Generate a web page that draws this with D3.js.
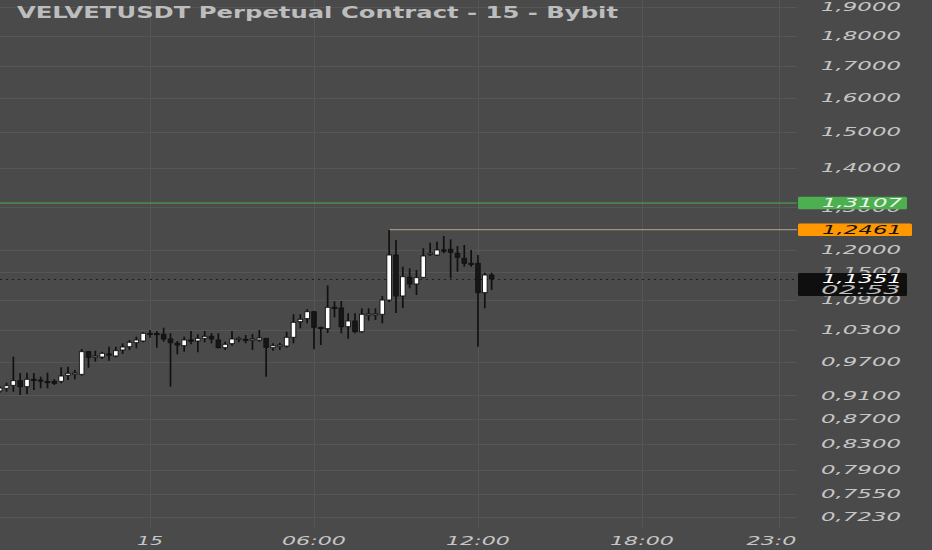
<!DOCTYPE html>
<html><head><meta charset="utf-8">
<script src="https://cdn.jsdelivr.net/npm/d3@7"></script>
<style>html,body{margin:0;padding:0;background:#4a4a4a;}svg{display:block}</style>
</head><body>
<svg id="chart" width="932" height="550"></svg>
<script>
const title = "VELVETUSDT Perpetual Contract - 15 - Bybit";
const firstBar = Date.UTC(2024, 0, 14, 18, 30);
const barMinutes = 15;
const open  = [0.9177,0.9224,0.9276,0.9358,0.9252,0.9383,0.9370,0.9344,0.9347,0.9347,0.9454,0.9490,0.9472,0.9887,0.9797,0.9788,0.9844,0.9807,0.9919,0.9981,1.0057,1.0090,1.0238,1.0234,1.0219,1.0128,1.0046,1.0000,1.0109,1.0090,1.0141,1.0180,1.0109,0.9962,1.0038,1.0128,1.0122,1.0122,1.0109,1.0141,0.9962,1.0008,0.9994,1.0161,1.0466,1.0526,1.0666,1.0355,1.0328,1.0756,1.0741,1.0367,1.0480,1.0269,1.0614,1.0620,1.0614,1.0905,1.1877,1.0989,1.1385,1.1242,1.1385,1.1900,1.1877,1.1991,1.2006,1.1916,1.1803,1.1692,1.1692,1.1058,1.1435];
const high  = [0.9264,0.9322,0.9794,0.9495,0.9501,0.9495,0.9429,0.9501,0.9383,0.9599,0.9609,0.9550,0.9938,0.9900,0.9906,0.9887,0.9981,0.9981,1.0046,1.0109,1.0172,1.0257,1.0302,1.0283,1.0347,1.0238,1.0090,1.0172,1.0283,1.0219,1.0283,1.0238,1.0238,1.0076,1.0283,1.0172,1.0205,1.0224,1.0302,1.0147,1.0046,1.0057,1.0269,1.0614,1.0614,1.0715,1.0680,1.0367,1.1210,1.0879,1.0885,1.0634,1.0634,1.0735,1.0735,1.0735,1.0989,1.2461,1.2220,1.1617,1.1581,1.1544,1.2029,1.2158,1.2181,1.2313,1.2236,1.2082,1.2105,1.1991,1.1877,1.1485,1.1485];
const low   = [0.9142,0.9164,0.9164,0.9107,0.9125,0.9194,0.9224,0.9224,0.9282,0.9312,0.9370,0.9383,0.9447,0.9591,0.9701,0.9751,0.9720,0.9782,0.9844,0.9919,0.9951,1.0065,1.0153,0.9962,1.0076,0.9252,0.9838,0.9887,1.0027,0.9876,1.0065,1.0046,0.9951,0.9919,1.0000,1.0065,1.0046,0.9919,1.0076,0.9429,0.9906,0.9919,0.9962,1.0046,1.0336,1.0434,0.9932,1.0013,1.0244,1.0550,1.0238,1.0132,1.0238,1.0250,1.0486,1.0500,1.0434,1.0864,1.0640,1.0741,1.1150,1.1009,1.1364,1.1855,1.1855,1.1916,1.1364,1.1507,1.1617,1.1617,0.9981,1.0735,1.1114];
const close = [0.9229,0.9269,0.9358,0.9252,0.9383,0.9370,0.9361,0.9335,0.9312,0.9441,0.9490,0.9495,0.9887,0.9782,0.9807,0.9857,0.9834,0.9906,0.9975,1.0065,1.0109,1.0238,1.0234,1.0228,1.0128,1.0057,1.0013,1.0109,1.0103,1.0141,1.0180,1.0128,0.9962,1.0027,1.0128,1.0141,1.0122,1.0128,1.0147,0.9970,1.0000,1.0013,1.0161,1.0454,1.0514,1.0666,1.0355,1.0347,1.0756,1.0745,1.0367,1.0480,1.0269,1.0614,1.0620,1.0626,1.0905,1.1877,1.0989,1.1398,1.1242,1.1377,1.1855,1.1916,1.1991,1.1984,1.1938,1.1826,1.1692,1.1692,1.1058,1.1435,1.1351];
const priceTicks = [1.9,1.8,1.7,1.6,1.5,1.4,1.3,1.2,1.15,1.09,1.03,0.97,0.91,0.87,0.83,0.79,0.755,0.723];
const timeTickValues = [Date.UTC(2024,0,15,0), Date.UTC(2024,0,15,6), Date.UTC(2024,0,15,12), Date.UTC(2024,0,15,18), Date.UTC(2024,0,15,23)];
const timeTickLabels = ["15","06:00","12:00","18:00","23:00"];
const alertLevel = 1.3107;
const highLevel = 1.2461;
const highIndex = 57;
const lastPrice = 1.1351;
const countdown = "02:53";

const W = 932, H = 550, plotRight = 797, plotBottom = 520;
const svg = d3.select("#chart");
const x = d3.scaleUtc().domain([Date.UTC(2024,0,15,0), Date.UTC(2024,0,15,23)]).range([150, 778.6]);
const y = d3.scaleLog().domain([0.723, 1.9]).range([516.7, 7.3]);
const fmt = v => d3.format(".4f")(v).replace(".", ",");
const axisColor = "#c6c6c6";

svg.append("rect").attr("width", W).attr("height", H).attr("fill", "#4a4a4a");

const defs = svg.append("defs");
defs.append("clipPath").attr("id","plot").append("rect").attr("x",0).attr("y",0).attr("width",plotRight).attr("height",plotBottom);
defs.append("clipPath").attr("id","timeax").append("rect").attr("x",0).attr("y",plotBottom).attr("width",plotRight).attr("height",H-plotBottom);

// grid
const grid = svg.append("g").attr("stroke", "#565656").attr("stroke-width", 1);
grid.selectAll("line.h").data(priceTicks).join("line")
  .attr("x1", 0).attr("x2", plotRight)
  .attr("y1", d => Math.round(y(d)) + 0.5).attr("y2", d => Math.round(y(d)) + 0.5);
grid.selectAll("line.v").data(timeTickValues).join("line")
  .attr("y1", 0).attr("y2", plotBottom + 7)
  .attr("x1", d => Math.round(x(d)) + 0.5).attr("x2", d => Math.round(x(d)) + 0.5);

// title
svg.append("text").attr("x", 17).attr("y", 18)
  .attr("font-family", "DejaVu Sans").attr("font-weight", "bold").attr("font-size", 15)
  .attr("fill", "#bdbdbd").attr("textLength", 601).attr("lengthAdjust", "spacingAndGlyphs")
  .text(title);

const plot = svg.append("g").attr("clip-path", "url(#plot)");

// alert line
plot.append("line").attr("x1", 0).attr("x2", plotRight)
  .attr("y1", y(alertLevel)).attr("y2", y(alertLevel))
  .attr("stroke", "#4caf50").attr("stroke-width", 1);
// high line
const times = open.map((_, i) => new Date(firstBar + i * barMinutes * 60000));
plot.append("line").attr("x1", x(times[highIndex])).attr("x2", plotRight)
  .attr("y1", y(highLevel)).attr("y2", y(highLevel))
  .attr("stroke", "#b9a58c").attr("stroke-width", 1);
// last price dotted line
plot.append("line").attr("x1", 0).attr("x2", plotRight)
  .attr("y1", Math.round(y(lastPrice)) + 0.5).attr("y2", Math.round(y(lastPrice)) + 0.5)
  .attr("stroke", "#1e1e1e").attr("stroke-width", 1).attr("stroke-dasharray", "2,4");

// candles
const bars = open.map((o, i) => ({t: times[i], o, h: high[i], l: low[i], c: close[i]}));
const cg = plot.append("g");
cg.selectAll("line.wick").data(bars).join("line")
  .attr("x1", d => x(d.t)).attr("x2", d => x(d.t))
  .attr("y1", d => y(d.h)).attr("y2", d => y(d.l))
  .attr("stroke", "#111").attr("stroke-width", 1.7);
cg.selectAll("rect.body").data(bars).join("rect")
  .attr("x", d => x(d.t) - 2.3).attr("width", 4.6)
  .attr("y", d => Math.min(y(d.o), y(d.c)))
  .attr("height", d => Math.max(1.2, Math.abs(y(d.o) - y(d.c))))
  .attr("fill", d => d.c > d.o ? "#ffffff" : "#161616")
  .attr("stroke", "#111").attr("stroke-width", 0.9);

// price axis labels
svg.append("g").selectAll("text").data(priceTicks).join("text")
  .attr("x", 821).attr("y", d => y(d)).attr("dy", "0.36em")
  .attr("font-family", "DejaVu Sans").attr("font-style", "italic").attr("font-size", 11.5)
  .attr("fill", axisColor).attr("textLength", 80).attr("lengthAdjust", "spacingAndGlyphs")
  .text(fmt);

// time axis labels
svg.append("g").attr("clip-path", "url(#timeax)").selectAll("text").data(timeTickValues).join("text")
  .attr("x", d => x(d)).attr("y", 541).attr("dy", "0.36em").attr("text-anchor", "middle")
  .attr("font-family", "DejaVu Sans").attr("font-style", "italic").attr("font-size", 11.5)
  .attr("fill", axisColor)
  .attr("textLength", (d, i) => timeTickLabels[i].length === 2 ? 26 : 64)
  .attr("lengthAdjust", "spacingAndGlyphs")
  .text((d, i) => timeTickLabels[i]);

// price tags
function tag(v, fill, color, w, extra) {
  const yy = y(v);
  const h = extra ? 23 : 12.5;
  const top = extra ? yy - 6 : yy - h / 2;
  svg.append("rect").attr("x", 798).attr("y", top).attr("width", w).attr("height", h)
    .attr("rx", 1.5).attr("fill", fill);
  svg.append("text").attr("x", 822).attr("y", extra ? yy : yy).attr("dy", "0.36em")
    .attr("font-family", "DejaVu Sans").attr("font-style", "italic").attr("font-size", 11.5)
    .attr("fill", color).attr("textLength", 80).attr("lengthAdjust", "spacingAndGlyphs")
    .text(fmt(v));
  if (extra) {
    svg.append("text").attr("x", 821).attr("y", yy + 11).attr("dy", "0.36em")
      .attr("font-family", "DejaVu Sans").attr("font-style", "italic").attr("font-size", 11.5)
      .attr("fill", "#bdbdbd").attr("textLength", 80).attr("lengthAdjust", "spacingAndGlyphs")
      .text(extra);
  }
}
tag(alertLevel, "#4caf50", "#eaf6ea", 109);
tag(highLevel, "#ff9800", "#111111", 114);
tag(lastPrice, "#0f0f0f", "#ffffff", 109, countdown);
</script>
</body></html>
